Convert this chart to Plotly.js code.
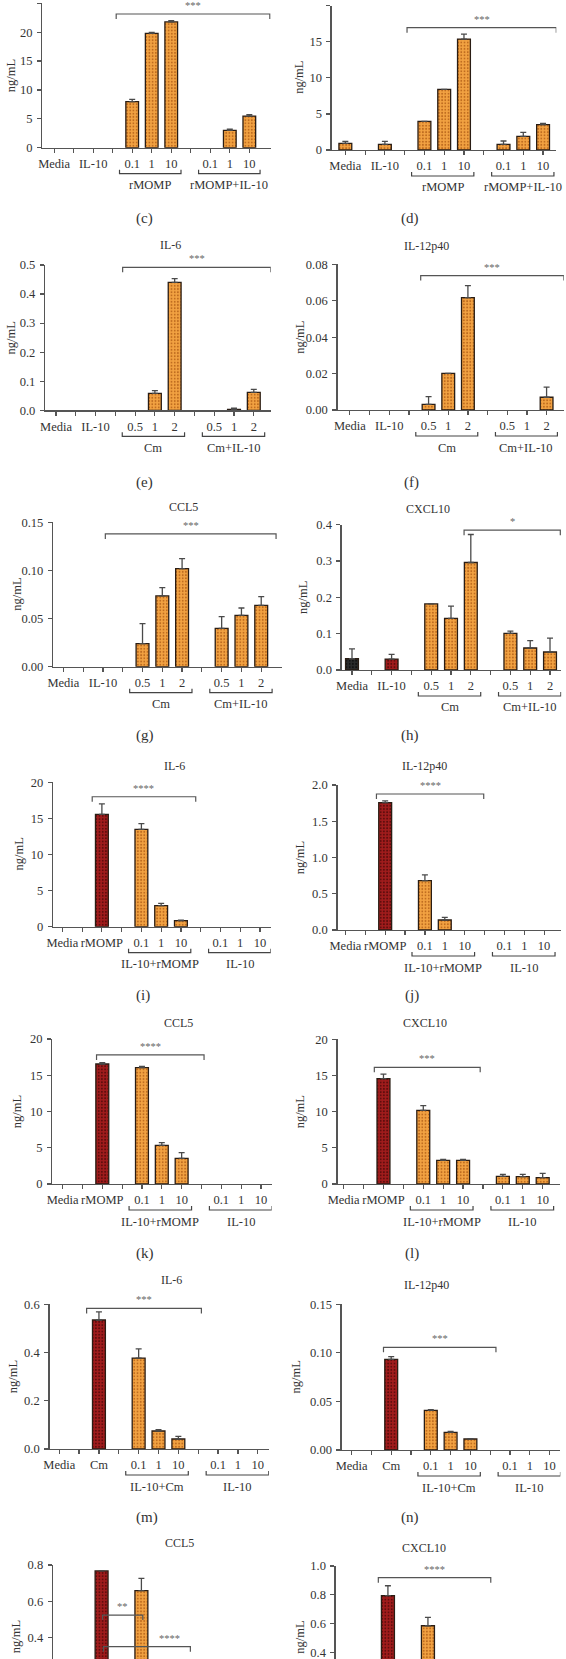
<!DOCTYPE html>
<html>
<head>
<meta charset="utf-8">
<script src="https://cdn.plot.ly/plotly-3.0.1.min.js"></script>
<style>
html,body{margin:0;padding:0;overflow:hidden;background:#fff;}
#chart{position:absolute;left:0;top:0;width:566px;height:1800px;}
</style>
</head>
<body>
<div id="chart"></div>
<script>
// ---------------- DATA ----------------
const SLOTS = [0,1,2,3,4,5,6,7,8,9,10];
const catsRMOMP     = ['Media','','IL-10','','0.1','1','10','','0.1','1','10'];
const catsCm        = ['Media','','IL-10','','0.5','1','2','','0.5','1','2'];
const catsIL10RMOMP = ['Media','','rMOMP','','0.1','1','10','','0.1','1','10'];
const catsIL10Cm    = ['Media','','Cm','','0.1','1','10','','0.1','1','10'];

const groupsRMOMP     = ['rMOMP','rMOMP+IL-10'];
const groupsCm        = ['Cm','Cm+IL-10'];
const groupsIL10RMOMP = ['IL-10+rMOMP','IL-10'];
const groupsIL10Cm    = ['IL-10+Cm','IL-10'];

// bar colour keys per slot: o = orange, r = dark red, k = black
const colAllOrange = ['o','','o','','o','o','o','','o','o','o'];
const colBlackRed  = ['k','','r','','o','o','o','','o','o','o'];
const colRed2      = ['o','','r','','o','o','o','','o','o','o'];

// (c) rMOMP / rMOMP+IL-10
const valsC = [0, null, 0, null, 7.97, 19.8, 21.77, null, 0, 3.0, 5.48];
const errC  = [0, null, 0, null, 0.40, 0.18, 0.23, null, 0, 0.23, 0.24];
// (d)
const valsD = [0.92, null, 0.78, null, 3.97, 8.4, 15.38, null, 0.78, 1.89, 3.51];
const errD  = [0.28, null, 0.42, null, 0, 0, 0.69, null, 0.47, 0.56, 0.19];
// (e) IL-6, Cm
const valsE = [0, null, 0, null, 0, 0.058, 0.440, null, 0, 0.003, 0.062];
const errE  = [0, null, 0, null, 0, 0.010, 0.013, null, 0, 0.004, 0.010];
// (f) IL-12p40, Cm
const valsF = [0, null, 0, null, 0.0031, 0.0201, 0.0617, null, 0, 0, 0.0070];
const errF  = [0, null, 0, null, 0.0042, 0, 0.0066, null, 0, 0, 0.0056];
// (g) CCL5, Cm
const valsG = [0, null, 0, null, 0.0239, 0.0735, 0.1019, null, 0.0398, 0.0534, 0.0638];
const errG  = [0, null, 0, null, 0.0208, 0.0086, 0.0104, null, 0.0122, 0.0076, 0.0090];
// (h) CXCL10, Cm
const valsH = [0.031, null, 0.030, null, 0.182, 0.142, 0.296, null, 0.101, 0.0606, 0.0495];
const errH  = [0.027, null, 0.013, null, 0, 0.034, 0.077, null, 0.006, 0.0204, 0.0385];
// (i) IL-6, IL-10 + rMOMP
const valsI = [0, null, 15.57, null, 13.49, 2.91, 0.83, null, 0, 0, 0];
const errI  = [0, null, 1.43, null, 0.78, 0.32, 0.09, null, 0, 0, 0];
// (j) IL-12p40
const valsJ = [0, null, 1.756, null, 0.68, 0.138, 0, null, 0, 0, 0];
const errJ  = [0, null, 0.024, null, 0.079, 0.037, 0, null, 0, 0, 0];
// (k) CCL5
const valsK = [0, null, 16.55, null, 16.05, 5.33, 3.54, null, 0, 0, 0];
const errK  = [0, null, 0.19, null, 0.18, 0.37, 0.78, null, 0, 0, 0];
// (l) CXCL10
const valsL = [0, null, 14.56, null, 10.18, 3.27, 3.27, null, 1.06, 1.01, 0.88];
const errL  = [0, null, 0.64, null, 0.65, 0.14, 0.14, null, 0.28, 0.33, 0.59];
// (m) IL-6, IL-10 + Cm
const valsM = [0, null, 0.535, null, 0.377, 0.0746, 0.0415, null, 0, 0, 0];
const errM  = [0, null, 0.034, null, 0.038, 0.0054, 0.011, null, 0, 0, 0];
// (n) IL-12p40
const valsN = [0, null, 0.0933, null, 0.0408, 0.0182, 0.0113, null, 0, 0, 0];
const errN  = [0, null, 0.0028, null, 0.0007, 0.0010, 0.0004, null, 0, 0, 0];
// (o) CCL5 (only the visible part)
const valsO = [null, null, 0.767, null, 0.658, null, null, null, null, null, null];
const errO  = [null, null, 0, null, 0.068, null, null, null, null, null, null];
// (p) CXCL10 (only the visible part)
const valsP = [null, null, 0.794, null, 0.585, null, null, null, null, null, null];
const errP  = [null, null, 0.069, null, 0.058, null, null, null, null, null, null];

// significance brackets: [from slot, to slot, y value, label, label slot (null = centre)]
const sigC = [[3.18, 11.05, 23.15, '***', null]];
const sigD = [[3.12, 10.67, 16.95, '***', null]];
const sigE = [[3.37, 10.86, 0.492, '***', null]];
const sigF = [[3.60, 10.88, 0.0738, '***', null]];
const sigG = [[2.12, 10.75, 0.1379, '***', null]];
const sigH = [[5.66, 10.52, 0.385, '*', null]];
const sigI = [[1.51, 6.75, 18.0, '****', null]];
const sigJ = [[1.56, 6.96, 1.876, '****', null]];
const sigK = [[1.71, 7.13, 17.8, '****', null]];
const sigL = [[1.54, 6.86, 16.13, '***', null]];
const sigM = [[1.38, 7.16, 0.583, '***', null]];
const sigN = [[1.61, 7.29, 0.1057, '***', null]];
const sigO = [[2.05, 4.07, 0.523, '**', null], [2.09, 6.46, 0.348, '****', 5.4]];
const sigP = [[1.52, 7.14, 0.919, '****', null]];

const titles = {c:null, d:null, e:'IL-6', f:'IL-12p40', g:'CCL5', h:'CXCL10',
                i:'IL-6', j:'IL-12p40', k:'CCL5', l:'CXCL10', m:'IL-6', n:'IL-12p40', o:'CCL5', p:'CXCL10'};

// ---------------- LAYOUT (pixel geometry / styles) ----------------
const W = 566, H = 1800, VIEW_H = 1659;
const px = v => v / W;
const py = v => 1 - v / H;

const panels = [
 {id:'c', L:42.2,  R:270.8, top:3.3,    zero:147.7, xr:[-0.61,11.1],  ymax:25,   dtick:5,    dec:0, cats:catsRMOMP, groups:groupsRMOMP, vals:valsC, err:errC, col:colAllOrange, sig:sigC, tY:null, ytX:10.8,  letY:218},
 {id:'d', L:331.7, R:556.3, top:5.7,    zero:150,   xr:[-0.69,10.67], ymax:20,   dtick:5,    dec:0, cats:catsRMOMP, groups:groupsRMOMP, vals:valsD, err:errD, col:colAllOrange, sig:sigD, tY:null, ytX:299,   letY:218},
 {id:'e', L:45.1,  R:270.8, top:265,    zero:410.3, xr:[-0.55,10.86], ymax:0.5,  dtick:0.1,  dec:1, cats:catsCm, groups:groupsCm, vals:valsE, err:errE, col:colAllOrange, sig:sigE, tY:245, ytX:10.8, letY:482},
 {id:'f', L:337.5, R:563.9, top:264.3,  zero:410,   xr:[-0.63,10.88], ymax:0.08, dtick:0.02, dec:2, cats:catsCm, groups:groupsCm, vals:valsF, err:errF, col:colAllOrange, sig:sigF, tY:246.5, ytX:299.7, letY:482},
 {id:'g', L:53.1,  R:281.6, top:522.3,  zero:666.7, xr:[-0.52,11.03], ymax:0.15, dtick:0.05, dec:2, cats:catsCm, groups:groupsCm, vals:valsG, err:errG, col:colAllOrange, sig:sigG, tY:506.7, ytX:16.2, letY:735},
 {id:'h', L:341.7, R:561.3, top:524.7,  zero:670,   xr:[-0.52,10.57], ymax:0.4,  dtick:0.1,  dec:1, cats:catsCm, groups:groupsCm, vals:valsH, err:errH, col:colBlackRed, sig:sigH, tY:509, ytX:303.7, letY:735},
 {id:'i', L:53.1,  R:270.8, top:782.3,  zero:926.7, xr:[-0.47,10.55], ymax:20,   dtick:5,    dec:0, cats:catsIL10RMOMP, groups:groupsIL10RMOMP, vals:valsI, err:errI, col:colRed2, sig:sigI, tY:766, ytX:18, letY:995},
 {id:'j', L:337.5, R:561.4, top:785,    zero:930,   xr:[-0.40,10.87], ymax:2.0,  dtick:0.5,  dec:1, cats:catsIL10RMOMP, groups:groupsIL10RMOMP, vals:valsJ, err:errJ, col:colRed2, sig:sigJ, tY:766, ytX:299.7, letY:995},
 {id:'k', L:52.3,  R:271.7, top:1039,   zero:1184,  xr:[-0.52,10.54], ymax:20,   dtick:5,    dec:0, cats:catsIL10RMOMP, groups:groupsIL10RMOMP, vals:valsK, err:errK, col:colRed2, sig:sigK, tY:1023.3, ytX:16.7, letY:1253},
 {id:'l', L:337.5, R:559.6, top:1039.3, zero:1184,  xr:[-0.31,10.85], ymax:20,   dtick:5,    dec:0, cats:catsIL10RMOMP, groups:groupsIL10RMOMP, vals:valsL, err:errL, col:colRed2, sig:sigL, tY:1023.3, ytX:299.7, letY:1253},
 {id:'m', L:49.5,  R:268.9, top:1304.3, zero:1449,  xr:[-0.49,10.56], ymax:0.6,  dtick:0.2,  dec:1, cats:catsIL10Cm, groups:groupsIL10Cm, vals:valsM, err:errM, col:colRed2, sig:sigM, tY:1280, ytX:12.6, letY:1517},
 {id:'n', L:341.7, R:560.3, top:1304.3, zero:1450,  xr:[-0.50,10.54], ymax:0.15, dtick:0.05, dec:2, cats:catsIL10Cm, groups:groupsIL10Cm, vals:valsN, err:errN, col:colRed2, sig:sigN, tY:1285, ytX:296.3, letY:1517},
 {id:'o', L:53,    R:272,   top:1565,   zero:1709.5,xr:[-0.44,10.56], ymax:0.8,  dtick:0.2,  dec:1, cats:catsIL10Cm, groups:groupsIL10Cm, vals:valsO, err:errO, col:colRed2, sig:sigO, tY:1543.3, ytX:16.2, letY:1780},
 {id:'p', L:335.7, R:560,   top:1566,   zero:1710,  xr:[-0.61,10.60], ymax:1.0,  dtick:0.2,  dec:1, cats:catsIL10Cm, groups:groupsIL10Cm, vals:valsP, err:errP, col:colRed2, sig:sigP, tY:1547.7, ytX:299.7, letY:1780}
];

const FONT = 'Liberation Serif, DejaVu Serif, serif';
const TXT = '#333333';
const AXC = '#555555';
const FS = 12.5;
const FILL = {
  o: {bg:'#f2a242', fg:'#bf6c1f'},
  r: {bg:'#a11c1c', fg:'#5e0c0c'},
  k: {bg:'#2b2b2b', fg:'#111111'}
};
const BAR_W = 0.65;
const GROUP_SPANS = [[3.35, 6.5], [7.4, 10.55]];

const traces = [];
const layout = {
  width: W, height: H,
  margin: {l:0, r:0, t:0, b:0},
  paper_bgcolor: '#ffffff', plot_bgcolor: 'rgba(0,0,0,0)',
  showlegend: false,
  shapes: [], annotations: []
};

panels.forEach((p, idx) => {
  const sfx = idx === 0 ? '' : String(idx + 1);
  const xa = 'x' + sfx, ya = 'y' + sfx;
  const xname = 'xaxis' + sfx, yname = 'yaxis' + sfx;
  const plotH = p.zero - p.top;
  const belowVisible = p.zero + 10 < VIEW_H;   // texts under the axis are inside the page

  // y ticks: only those that fall inside the page
  const yTicks = [];
  for (let k = 0; k * p.dtick <= p.ymax + 1e-9; k++) {
    const v = +(k * p.dtick).toFixed(6);
    const pix = p.zero - v / p.ymax * plotH;
    if (pix < VIEW_H - 6) yTicks.push(v);
  }

  layout[xname] = {
    domain: [px(p.L), px(p.R)], range: p.xr, anchor: ya,
    showline: true, linecolor: AXC, linewidth: 1.3,
    ticks: 'outside', ticklen: 4, tickwidth: 1.2, tickcolor: AXC,
    tickmode: 'array', tickvals: SLOTS, ticktext: belowVisible ? p.cats : SLOTS.map(() => ''), tickangle: 0,
    tickfont: {family: FONT, size: FS, color: TXT},
    showgrid: false, zeroline: false, fixedrange: true
  };
  layout[yname] = {
    domain: [py(p.zero), py(p.top)], range: [0, p.ymax], anchor: xa,
    showline: true, linecolor: AXC, linewidth: 1.3,
    ticks: 'outside', ticklen: 4, tickwidth: 1.2, tickcolor: AXC,
    tickmode: 'array', tickvals: yTicks, ticktext: yTicks.map(v => v.toFixed(p.dec)),
    ticklabelstandoff: 2,
    tickfont: {family: FONT, size: FS, color: TXT},
    showgrid: false, zeroline: false, fixedrange: true
  };

  // bars, one trace per colour (zero-valued groups have nothing to draw)
  ['o', 'r', 'k'].forEach(c => {
    const xs = [], ys = [], es = [], em = [];
    SLOTS.forEach(i => {
      const v = p.vals[i];
      if (v !== null && v > 0 && p.col[i] === c) {
        xs.push(i); ys.push(v); es.push(p.err[i] > 0 ? p.err[i] : null); em.push(0);
      }
    });
    if (!xs.length) return;
    traces.push({
      type: 'bar', x: xs, y: ys, width: BAR_W, xaxis: xa, yaxis: ya,
      marker: {
        color: FILL[c].bg,
        line: {color: '#2a1d14', width: 1.3},
        pattern: {shape: '.', fgcolor: FILL[c].fg, bgcolor: FILL[c].bg, size: 3.2, solidity: 0.28, fillmode: 'replace'}
      },
      error_y: {type: 'data', symmetric: false, array: es, arrayminus: em, color: '#4a4a4a', thickness: 1.3, width: 3, visible: true},
      hoverinfo: 'skip', showlegend: false
    });
  });

  // significance brackets
  const tick = 5 / plotH * p.ymax;
  p.sig.forEach(s => {
    const [x0, x1, yv, lab, lx] = s;
    layout.shapes.push({
      type: 'path', xref: xa, yref: ya,
      path: `M ${x0},${yv - tick} L ${x0},${yv} L ${x1},${yv} L ${x1},${yv - tick}`,
      line: {color: '#555555', width: 1.2}
    });
    layout.annotations.push({
      xref: xa, yref: ya, x: lx === null ? (x0 + x1) / 2 : lx, y: yv,
      text: lab, showarrow: false, yanchor: 'bottom', yshift: 1,
      font: {family: FONT, size: 10.5, color: '#666666'}
    });
  });

  // group brackets under the axis
  const gY = p.zero + 26;
  p.groups.forEach((g, gi) => {
    const [g0, g1] = GROUP_SPANS[gi];
    layout.shapes.push({
      type: 'path', xref: xa, yref: 'paper',
      path: `M ${g0},${py(gY - 4)} L ${g0},${py(gY)} L ${g1},${py(gY)} L ${g1},${py(gY - 4)}`,
      line: {color: '#444444', width: 1.2}
    });
    if (belowVisible) {
      layout.annotations.push({
        xref: xa, yref: 'paper', x: (g0 + g1) / 2, y: py(p.zero + 37.5),
        text: g, showarrow: false, yanchor: 'middle',
        font: {family: FONT, size: FS, color: TXT}
      });
    }
  });

  // panel title
  if (titles[p.id]) {
    layout.annotations.push({
      xref: 'paper', yref: 'paper', x: px((p.L + p.R) / 2), y: py(p.tY),
      text: titles[p.id], showarrow: false, yanchor: 'middle',
      font: {family: FONT, size: 12, color: TXT}
    });
  }
  // y-axis title (kept inside the page for the truncated bottom row)
  const ytY = Math.min((p.top + p.zero) / 2, VIEW_H - 22);
  layout.annotations.push({
    xref: 'paper', yref: 'paper', x: px(p.ytX), y: py(ytY),
    text: 'ng/mL', textangle: -90, showarrow: false, xanchor: 'center', yanchor: 'middle',
    font: {family: FONT, size: 12.5, color: TXT}
  });
  // panel letter
  if (belowVisible) {
    layout.annotations.push({
      xref: 'paper', yref: 'paper', x: px(idx % 2 === 0 ? 134 : 421), y: py(p.letY),
      text: '(' + p.id + ')', showarrow: false, yanchor: 'middle',
      font: {family: FONT, size: 15, color: TXT}
    });
  }
});

Plotly.newPlot('chart', traces, layout, {staticPlot: true, displayModeBar: false});
</script>
</body>
</html>
